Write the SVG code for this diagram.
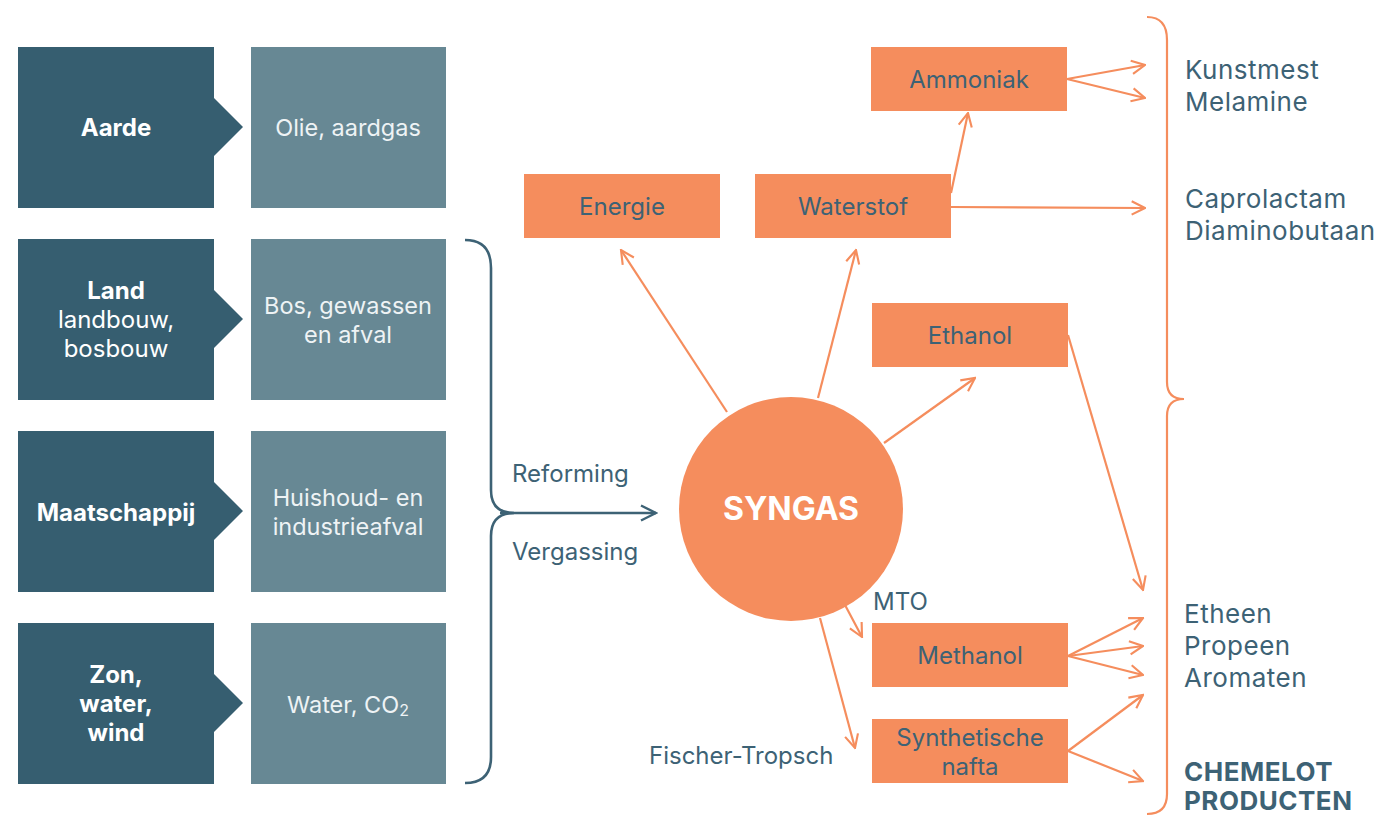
<svg xmlns="http://www.w3.org/2000/svg" width="1382" height="816" viewBox="0 0 1382 816">
<defs>
<style>
.dark{fill:#365e70}
.light{fill:#678894}
.ob{fill:#f58d5d}
.tw{font-family:Inter,"Liberation Sans",sans-serif;font-size:24px;fill:#ffffff;text-anchor:middle}
.tl{font-family:Inter,"Liberation Sans",sans-serif;font-size:23.5px;fill:#eef3f5;text-anchor:middle}
.b{font-weight:700}
.to{font-family:Inter,"Liberation Sans",sans-serif;font-size:24px;fill:#3d6275;text-anchor:middle}
.tr{font-family:Inter,"Liberation Sans",sans-serif;font-size:26px;fill:#3d6275;letter-spacing:0.5px}
.lab{font-family:Inter,"Liberation Sans",sans-serif;font-size:24px;fill:#3d6275}
.oc{stroke:#f58d5d;stroke-width:2.2;fill:none}
.tc{stroke:#3d6275;stroke-width:2.6;fill:none}
</style>
<marker id="ao" viewBox="0 0 12 12" refX="11" refY="6" markerWidth="16" markerHeight="16" markerUnits="userSpaceOnUse" orient="auto">
<path d="M1,1 L11,6 L1,11" fill="none" stroke="#f58d5d" stroke-width="1.6"/>
</marker>
<marker id="at" viewBox="0 0 12 12" refX="11" refY="6" markerWidth="18" markerHeight="18" markerUnits="userSpaceOnUse" orient="auto">
<path d="M1,1 L11,6 L1,11" fill="none" stroke="#3d6275" stroke-width="1.6"/>
</marker>
</defs>
<rect width="1382" height="816" fill="#ffffff"/>

<g id="aarde">
<path class="dark" d="M18,47 H214 V98 L243,127 L214,156 V208 H18 Z"/>
<text class="tw b" x="116" y="136">Aarde</text>
</g>
<g id="olie">
<rect class="light" x="251" y="47" width="195" height="161"/>
<text class="tl" x="348" y="136">Olie, aardgas</text>
</g>
<g id="land">
<path class="dark" d="M18,239 H214 V290 L243,319 L214,348 V400 H18 Z"/>
<text class="tw" x="116" y="299"><tspan class="b">Land</tspan><tspan x="116" dy="29">landbouw,</tspan><tspan x="116" dy="29">bosbouw</tspan></text>
</g>
<g id="bos">
<rect class="light" x="251" y="239" width="195" height="161"/>
<text class="tl" x="348" y="314">Bos, gewassen<tspan x="348" dy="29">en afval</tspan></text>
</g>
<g id="maatschappij">
<path class="dark" d="M18,431 H214 V482 L243,511 L214,540 V592 H18 Z"/>
<text class="tw b" x="116" y="521">Maatschappij</text>
</g>
<g id="huishoud">
<rect class="light" x="251" y="431" width="195" height="161"/>
<text class="tl" x="348" y="506">Huishoud- en<tspan x="348" dy="29">industrieafval</tspan></text>
</g>
<g id="zon">
<path class="dark" d="M18,623 H214 V674 L243,703 L214,732 V784 H18 Z"/>
<text class="tw b" x="116" y="683">Zon,<tspan x="116" dy="29">water,</tspan><tspan x="116" dy="29">wind</tspan></text>
</g>
<g id="water">
<rect class="light" x="251" y="623" width="195" height="161"/>
<text class="tl" x="348" y="713">Water, CO<tspan font-size="16" dy="3">2</tspan></text>
</g>

<g id="syngas">
<circle class="ob" cx="791" cy="509" r="112"/>
<text x="791" y="520" font-family="Inter,'Liberation Sans',sans-serif" font-size="32" font-weight="700" fill="#ffffff" text-anchor="middle">SYNGAS</text>
</g>
<g id="energie"><rect class="ob" x="524" y="174" width="196" height="64"/><text class="to" x="622" y="215">Energie</text></g>
<g id="waterstof"><rect class="ob" x="755" y="174" width="196" height="64"/><text class="to" x="853" y="215">Waterstof</text></g>
<g id="ammoniak"><rect class="ob" x="871" y="47" width="196" height="64"/><text class="to" x="969" y="88">Ammoniak</text></g>
<g id="ethanol"><rect class="ob" x="872" y="303" width="196" height="64"/><text class="to" x="970" y="344">Ethanol</text></g>
<g id="methanol"><rect class="ob" x="872" y="623" width="196" height="64"/><text class="to" x="970" y="664">Methanol</text></g>
<g id="nafta"><rect class="ob" x="872" y="719" width="196" height="64"/><text class="to" x="970" y="746">Synthetische<tspan x="970" dy="29">nafta</tspan></text></g>

<g id="connectors">
<path class="tc" d="M465,240 Q491,240 491,268 L491,490 Q491,513 514,513 Q491,513 491,536 L491,757 Q491,783 465,783"/>
<line class="tc" x1="500" y1="513" x2="656" y2="513" marker-end="url(#at)"/>
<line class="oc" x1="727" y1="412" x2="621" y2="250" marker-end="url(#ao)"/>
<line class="oc" x1="818" y1="398" x2="856" y2="250" marker-end="url(#ao)"/>
<line class="oc" x1="884" y1="443" x2="975" y2="378" marker-end="url(#ao)"/>
<line class="oc" x1="845" y1="605" x2="862" y2="637" marker-end="url(#ao)"/>
<line class="oc" x1="820" y1="618" x2="855" y2="748" marker-end="url(#ao)"/>
<line class="oc" x1="951" y1="193" x2="968" y2="113" marker-end="url(#ao)"/>
<line class="oc" x1="951" y1="207" x2="1145" y2="208" marker-end="url(#ao)"/>
<line class="oc" x1="1067" y1="79" x2="1145" y2="65" marker-end="url(#ao)"/>
<line class="oc" x1="1067" y1="79" x2="1145" y2="98" marker-end="url(#ao)"/>
<line class="oc" x1="1068" y1="335" x2="1143" y2="590" marker-end="url(#ao)"/>
<line class="oc" x1="1068" y1="656" x2="1143" y2="618" marker-end="url(#ao)"/>
<line class="oc" x1="1068" y1="656" x2="1143" y2="646" marker-end="url(#ao)"/>
<line class="oc" x1="1068" y1="656" x2="1143" y2="675" marker-end="url(#ao)"/>
<line class="oc" x1="1068" y1="751" x2="1143" y2="695" marker-end="url(#ao)"/>
<line class="oc" x1="1068" y1="751" x2="1143" y2="781" marker-end="url(#ao)"/>
<path class="oc" d="M1147,17 Q1167,17 1167,40 L1167,382 Q1167,399 1184,399 Q1167,399 1167,416 L1167,794 Q1167,814 1147,814"/>
</g>

<g id="labels">
<text class="lab" x="512" y="482">Reforming</text>
<text class="lab" x="512" y="560">Vergassing</text>
<text class="lab" x="873" y="610">MTO</text>
<text class="lab" x="649" y="764">Fischer-Tropsch</text>
</g>

<g id="products">
<text class="tr" x="1185" y="79">Kunstmest<tspan x="1185" dy="32">Melamine</tspan></text>
<text class="tr" x="1185" y="208">Caprolactam<tspan x="1185" dy="32">Diaminobutaan</tspan></text>
<text class="tr" x="1184" y="623">Etheen<tspan x="1184" dy="32">Propeen</tspan><tspan x="1184" dy="32">Aromaten</tspan></text>
<text class="tr b" x="1184" y="781">CHEMELOT<tspan x="1184" dy="29">PRODUCTEN</tspan></text>
</g>
</svg>
